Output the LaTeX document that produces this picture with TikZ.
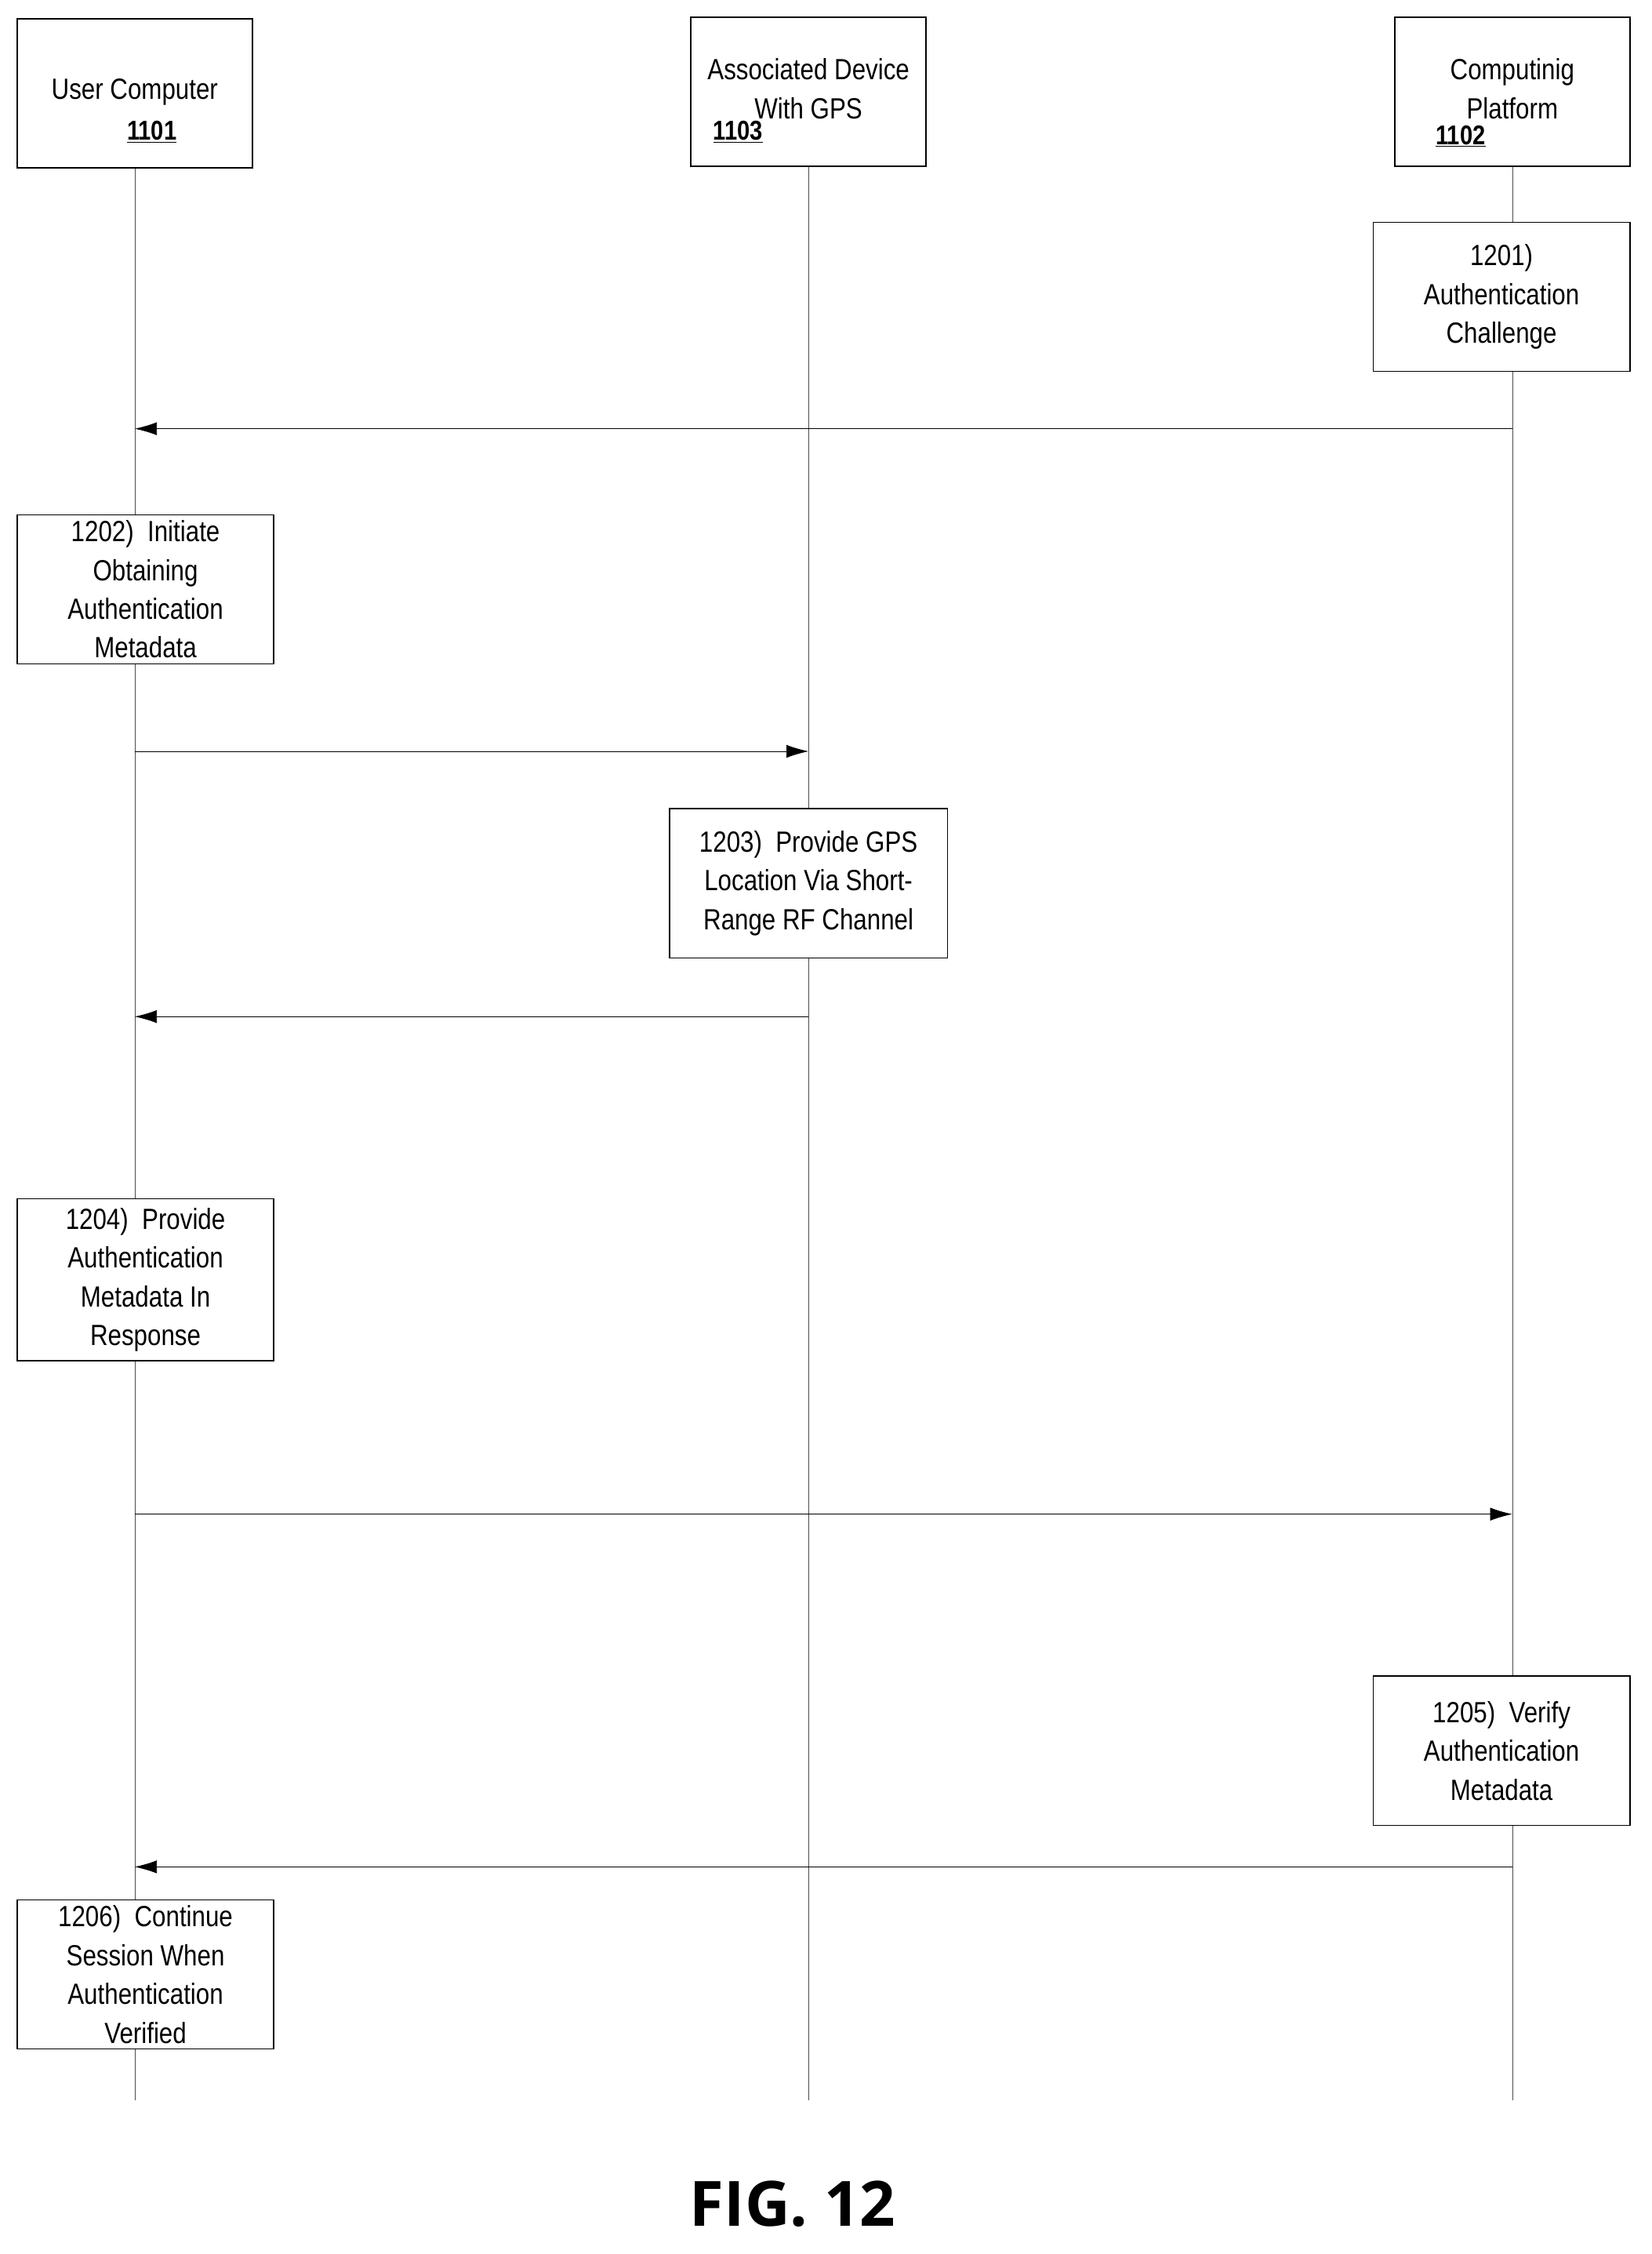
\documentclass[tikz,border=0pt]{standalone}
\usepackage{fontspec}
\setmainfont[FakeStretch=0.84]{Liberation Sans}
\newfontfamily\figfont{Open Sans}
\usetikzlibrary{arrows.meta}
\tikzset{
  box/.style={draw,line width=1.2pt,align=center,inner sep=0pt,
    font=\fontsize{29}{38.5}\selectfont},
  stepbox/.style={box,fill=white,minimum width=179*0.05cm,minimum height=104*0.05cm},
  life/.style={line width=0.5pt,draw=black!70},
  msg/.style={line width=0.6pt,-{Latex[length=22pt,width=13pt]}},
  num/.style={font=\fontsize{27}{30}\selectfont\bfseries}
}
\newcommand{\ul}[1]{\underline{#1}}
\begin{document}
\begin{tikzpicture}[x=0.05cm,y=-0.05cm]
  \useasboundingbox[fill=white] (0,0) rectangle (1152,1572);
  % participants
  \node[box,minimum width=164*0.05cm,minimum height=104*0.05cm] (uc) at (94,65) {};
  \node[box,minimum width=164*0.05cm,minimum height=104*0.05cm] (ad) at (564,64) {};
  \node[box,minimum width=164*0.05cm,minimum height=104*0.05cm] (cp) at (1055,64) {};
  \node[box,draw=none] at (94,64) {User Computer};
  \node[box,draw=none] at (564,62) {Associated Device\\With GPS};
  \node[box,draw=none] at (1055,62) {Computinig\\Platform};
  \node[num] at (106,92) {\ul{1101}};
  \node[num] at (515,92) {\ul{1103}};
  \node[num] at (1019,95) {\ul{1102}};
  % lifelines
  \coordinate (ucEnd) at (94,1465);
  \coordinate (adEnd) at (564,1465);
  \coordinate (cpEnd) at (1055,1465);
  \draw[life] (uc.south) -- (ucEnd);
  \draw[life] (ad.south) -- (adEnd);
  \draw[life] (cp.south) -- (cpEnd);
  % steps
  \node[stepbox] (s1201) at (1047.5,207) {1201)\\Authentication\\Challenge};
  \node[stepbox] (s1202) at (101.5,411) {1202)\ \ Initiate\\Obtaining\\Authentication\\Metadata};
  \node[stepbox,minimum width=194*0.05cm] (s1203) at (564,616) {1203)\ \ Provide GPS\\Location Via Short-\\Range RF Channel};
  \node[stepbox,minimum height=113*0.05cm] (s1204) at (101.5,892.5) {1204)\ \ Provide\\Authentication\\Metadata In\\Response};
  \node[stepbox] (s1205) at (1047.5,1221) {1205)\ \ Verify\\Authentication\\Metadata};
  \node[stepbox] (s1206) at (101.5,1377) {1206)\ \ Continue\\Session When\\Authentication\\Verified};
  % messages
  \coordinate (m1a) at (1055,299); \coordinate (m1b) at (94,299);
  \coordinate (m2a) at (94,524);   \coordinate (m2b) at (564,524);
  \coordinate (m3a) at (564,709);  \coordinate (m3b) at (94,709);
  \coordinate (m4a) at (94,1056);  \coordinate (m4b) at (1055,1056);
  \coordinate (m5a) at (1055,1302); \coordinate (m5b) at (94,1302);
  \draw[msg] (m1a) -- (m1b);
  \draw[msg] (m2a) -- (m2b);
  \draw[msg] (m3a) -- (m3b);
  \draw[msg] (m4a) -- (m4b);
  \draw[msg] (m5a) -- (m5b);
  \node[font=\figfont\fontsize{62}{70}\selectfont\bfseries] (fig) at (553,1537) {FIG. 12};
\end{tikzpicture}
\end{document}
